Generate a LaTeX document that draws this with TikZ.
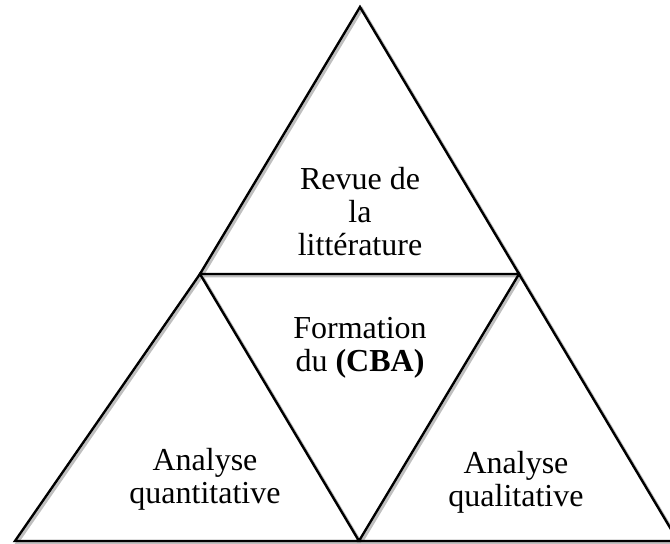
\documentclass[tikz,border=0pt]{standalone}
\usepackage{fontspec}
\setmainfont{Liberation Serif}
\tikzset{
  edge/.style={line width=1.2pt, line join=miter},
  shade/.style={line width=1.4pt, black!25},
  label/.style={align=center, font=\fontsize{16}{16.5}\selectfont}
}
\begin{document}
\begin{tikzpicture}[x=0.5pt,y=-0.5pt]
\useasboundingbox (0,0) rectangle (670,544);
\clip (0,0) rectangle (670,544);

% soft shadow
\draw[shade] (362,9) -- (521,276) -- (202,276) -- cycle;
\draw[shade] (202,276) -- (361,543) -- (17,543) -- cycle;
\draw[shade] (521,276) -- (680,543) -- (361,543) -- cycle;

% top triangle
\draw[edge] (360,7) -- (519,274) -- (200,274) -- cycle;
% bottom left
\draw[edge] (200,274) -- (359,541) -- (15,541) -- cycle;
% bottom right
\draw[edge] (519,274) -- (678,541) -- (359,541) -- cycle;

\node[label] (revue) at (360,212) {Revue de\\la\\littérature};
\node[label] (cba) at (360,348) {Formation\\du \textbf{(CBA)}};
\node[label] (quanti) at (205,479) {Analyse\\quantitative};
\node[label] (quali) at (516,482) {Analyse\\qualitative};
\end{tikzpicture}
\end{document}
